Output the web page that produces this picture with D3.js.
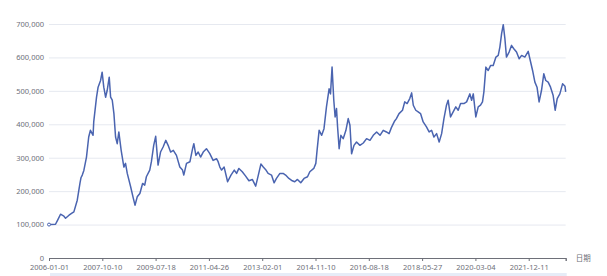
<!DOCTYPE html>
<html>
<head>
<meta charset="utf-8">
<script src="https://cdn.jsdelivr.net/npm/d3@7"></script>
<style>
  body { margin: 0; background: #fff; }
  text { font-family: "Noto Sans", "Noto Sans CJK SC", sans-serif; }
</style>
</head>
<body>
<div id="chart"></div>
<script>
// Data
const dates = [
  "2006-01-01","2006-03-21","2006-04-19","2006-05-21","2006-06-10","2006-07-01","2006-07-21","2006-09-01",
  "2006-10-06","2006-10-30","2006-12-10","2007-01-12","2007-01-24","2007-02-09","2007-02-28","2007-04-01",
  "2007-04-28","2007-05-19","2007-06-20","2007-06-28","2007-08-01","2007-08-20","2007-09-19","2007-10-08",
  "2007-10-28","2007-11-19","2007-12-08","2008-01-02","2008-01-19","2008-02-08","2008-02-28","2008-03-19",
  "2008-04-08","2008-04-28","2008-05-26","2008-06-28","2008-07-18","2008-08-08","2008-09-18","2008-10-20",
  "2008-11-10","2008-12-07","2009-01-08","2009-02-10","2009-03-08","2009-03-28","2009-05-08","2009-05-28",
  "2009-06-25","2009-07-19","2009-08-17","2009-09-16","2009-10-17","2009-11-19","2009-12-17","2010-01-16",
  "2010-02-18","2010-03-28","2010-05-08","2010-06-10","2010-06-25","2010-07-28","2010-09-08","2010-10-10",
  "2010-10-25","2010-11-19","2010-12-17","2011-01-15","2011-02-16","2011-03-27","2011-05-07","2011-06-16",
  "2011-07-27","2011-08-16","2011-09-06","2011-09-27","2011-10-28","2011-12-09","2012-01-19","2012-02-28",
  "2012-03-27","2012-04-24","2012-06-04","2012-07-15","2012-08-24","2012-10-04","2012-11-14","2012-12-16",
  "2013-01-16","2013-02-14","2013-03-13","2013-04-14","2013-05-25","2013-06-25","2013-07-24","2013-09-04",
  "2013-10-13","2013-11-12","2013-12-22","2014-02-01","2014-03-03","2014-04-05","2014-05-15","2014-06-24",
  "2014-08-05","2014-09-02","2014-10-20","2014-11-14","2014-11-29","2014-12-24","2015-01-24","2015-02-21",
  "2015-03-23","2015-04-24","2015-05-11","2015-05-30","2015-06-20","2015-07-06","2015-07-23","2015-08-05",
  "2015-08-24","2015-09-14","2015-10-12","2015-11-14","2015-12-12","2016-01-02","2016-01-22","2016-02-20",
  "2016-03-22","2016-05-02","2016-06-12","2016-07-22","2016-09-01","2016-10-11","2016-11-21","2017-01-01",
  "2017-02-09","2017-03-20","2017-04-21","2017-05-19","2017-06-28","2017-07-19","2017-08-20","2017-10-01",
  "2017-10-28","2017-11-26","2017-12-28","2018-01-20","2018-02-09","2018-03-11","2018-04-09","2018-05-08",
  "2018-06-09","2018-07-19","2018-08-20","2018-09-19","2018-10-17","2018-11-19","2018-12-20","2019-01-19",
  "2019-02-16","2019-03-19","2019-04-08","2019-05-07","2019-06-08","2019-07-10","2019-08-08","2019-09-06",
  "2019-10-16","2019-11-18","2019-12-28","2020-01-18","2020-02-07","2020-03-09","2020-04-07","2020-05-05",
  "2020-05-29","2020-06-15","2020-07-09","2020-08-06","2020-09-05","2020-10-06","2020-11-08","2020-12-06",
  "2020-12-26","2021-01-16","2021-02-05","2021-02-25","2021-03-16","2021-04-17","2021-05-16","2021-06-13",
  "2021-07-16","2021-08-17","2021-09-16","2021-10-25","2021-12-05","2021-12-25","2022-01-27","2022-02-24",
  "2022-03-22","2022-04-16","2022-05-15","2022-06-12","2022-07-06","2022-08-04","2022-09-02","2022-10-04",
  "2022-10-28","2022-11-22","2022-12-24","2023-01-26","2023-02-24","2023-03-05"
];

const values = [
  100000,101000,115000,131000,128000,125000,119000,128000,
  134000,138000,173000,224000,240000,248000,262000,302000,
  362000,382000,367000,407000,481000,511000,531000,556000,
  511000,481000,501000,541000,481000,472000,432000,362000,
  342000,377000,322000,272000,283000,253000,213000,179000,
  158000,183000,193000,223000,218000,243000,263000,288000,
  337000,364000,278000,317000,332000,352000,337000,317000,
  322000,307000,272000,263000,248000,283000,288000,327000,
  342000,307000,317000,302000,317000,327000,312000,292000,
  297000,288000,272000,263000,272000,228000,248000,263000,
  253000,268000,258000,245000,231000,235000,215000,248000,
  281000,272000,265000,253000,248000,225000,238000,253000,
  253000,248000,238000,231000,228000,235000,225000,238000,
  243000,258000,268000,283000,322000,382000,367000,387000,
  452000,506000,491000,571000,472000,422000,447000,392000,
  327000,367000,357000,382000,417000,397000,312000,337000,
  347000,337000,344000,357000,352000,367000,377000,367000,
  382000,377000,372000,390000,410000,417000,432000,442000,
  467000,462000,477000,494000,457000,442000,437000,432000,
  407000,392000,377000,382000,362000,372000,347000,372000,
  417000,457000,472000,422000,437000,452000,442000,462000,
  462000,467000,491000,472000,491000,422000,452000,457000,
  467000,497000,571000,561000,576000,576000,601000,606000,
  631000,671000,698000,656000,601000,616000,636000,626000,
  616000,596000,606000,601000,618000,596000,561000,526000,
  511000,467000,501000,551000,531000,526000,511000,486000,
  442000,477000,491000,521000,514000,497000
];

const xTickLabels = [
  "2006-01-01","2007-10-10","2009-07-18","2011-04-26","2013-02-01",
  "2014-11-10","2016-08-18","2018-05-27","2020-03-04","2021-12-11"
];
const yTicks = [0, 100000, 200000, 300000, 400000, 500000, 600000, 700000];
const xStart = "2006-01-01";
const xEnd = "2023-03-05";

// Dimensions and margins
const margin = { top: 24, right: 41.3, bottom: 18, left: 49 };
const width = 607 - margin.left - margin.right;
const height = 276 - margin.top - margin.bottom;

const parse = d3.timeParse("%Y-%m-%d");
const data = dates.map((d, i) => ({ date: parse(d), value: values[i] }));

const svg = d3.select("#chart")
    .append("svg")
    .attr("width", 607)
    .attr("height", 276)
    .append("g")
    .attr("transform", `translate(${margin.left},${margin.top})`);

// Scales
const x = d3.scaleTime()
    .domain([parse(xStart), parse(xEnd)])
    .range([0, width]);

const y = d3.scaleLinear()
    .domain([0, 700000])
    .range([height, 0]);

// Gridlines
svg.append("g")
    .call(d3.axisLeft(y).tickValues(yTicks.slice(1)).tickSize(-width).tickFormat(""))
    .call(g => g.select(".domain").remove())
    .call(g => g.selectAll("line").attr("stroke", "#e6e9f0"));

// Y axis labels
svg.append("g")
    .call(d3.axisLeft(y).tickValues(yTicks).tickSize(0).tickPadding(5).tickFormat(d3.format(",")))
    .call(g => g.select(".domain").remove())
    .call(g => g.selectAll("text").attr("fill", "#6e7079").style("font-size", "7.5px"));

// X axis (extra unlabeled tick at the end)
const tickDates = xTickLabels.map(parse).concat([parse(xEnd)]);
svg.append("g")
    .attr("transform", `translate(0,${height})`)
    .call(d3.axisBottom(x)
        .tickValues(tickDates)
        .tickSize(3)
        .tickPadding(3.5)
        .tickFormat((d, i) => i < xTickLabels.length ? xTickLabels[i] : ""))
    .call(g => g.select(".domain").attr("stroke", "#6e7079"))
    .call(g => g.selectAll("line").attr("stroke", "#6e7079"))
    .call(g => g.selectAll("text").attr("fill", "#6e7079").style("font-size", "7.5px"));

// Axis name
svg.append("text")
    .attr("x", width + 10)
    .attr("y", height + 3)
    .attr("fill", "#6e7079")
    .style("font-size", "7.5px")
    .text("日期");

// Slider strip peeking at the bottom
svg.append("rect")
    .attr("x", 1)
    .attr("y", height + 15)
    .attr("width", width)
    .attr("height", 5)
    .attr("fill", "#e6ecf7");

// The line
const line = d3.line()
    .x(d => x(d.date))
    .y(d => y(d.value));

svg.append("path")
    .datum(data)
    .attr("fill", "none")
    .attr("stroke", "#4a64b0")
    .attr("stroke-width", 1.5)
    .attr("stroke-linejoin", "round")
    .attr("d", line);

svg.append("circle")
    .attr("cx", x(data[0].date))
    .attr("cy", y(data[0].value))
    .attr("r", 1.5)
    .attr("fill", "#fff")
    .attr("stroke", "#4a64b0");
</script>
</body>
</html>
